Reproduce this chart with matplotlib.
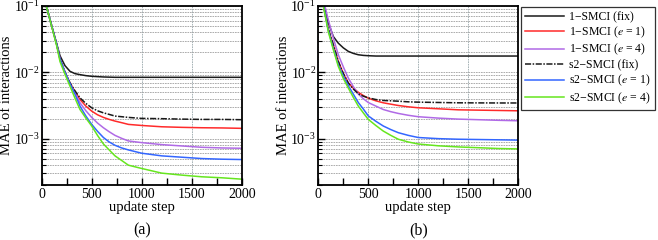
import numpy as np
import matplotlib

matplotlib.use("Agg")
import matplotlib.pyplot as plt
from matplotlib.ticker import MultipleLocator, LogLocator, NullFormatter

plt.rcParams.update(
    {
        "font.family": ["Liberation Serif", "DejaVu Serif"],
        "mathtext.fontset": "stix",
        "font.size": 10,
        "axes.linewidth": 1.3,
    }
)

# ---------- data ----------
# panel (a)
steps_a = [0, 50, 100, 150, 183, 233, 283, 333, 383, 442, 500, 558, 617, 675, 733,
           800, 867, 1000, 1200, 1400, 1600, 1800, 2000]
a_1fix = [0.141, 0.0955, 0.0501, 0.0269, 0.0178, 0.0126, 0.01035, 0.00955, 0.00923, 0.00891,
          0.00871, 0.00861, 0.00851, 0.00846, 0.00841, 0.00841, 0.00841, 0.00841, 0.00841,
          0.00841, 0.00841, 0.00841, 0.00841]
a_1e1 = [0.141, 0.0955, 0.0501, 0.0263, 0.0158, 0.0100, 0.00692, 0.00513, 0.00389, 0.00309,
         0.0026, 0.00229, 0.00209, 0.00195, 0.00184, 0.00174, 0.00164, 0.00158, 0.00151,
         0.00148, 0.00146, 0.00145, 0.00143]
a_1e4 = [0.141, 0.0955, 0.0501, 0.0263, 0.0158, 0.0100, 0.00676, 0.0049, 0.00347, 0.00263,
         0.00209, 0.00172, 0.00146, 0.00127, 0.00112, 0.00101, 0.000923, 0.000871, 0.000813,
         0.000776, 0.000741, 0.000724, 0.000716]
a_sfix = [0.141, 0.0955, 0.0501, 0.0263, 0.0158, 0.0100, 0.00692, 0.00525, 0.00412, 0.00339,
          0.00292, 0.00263, 0.00245, 0.00232, 0.00219, 0.00214, 0.00209, 0.00202, 0.0020,
          0.00197, 0.00195, 0.00195, 0.00193]
a_se1 = [0.141, 0.0955, 0.0501, 0.0263, 0.0158, 0.0100, 0.00676, 0.00468, 0.00309, 0.00219,
         0.00164, 0.00129, 0.00104, 0.000891, 0.000794, 0.000724, 0.000676, 0.000603, 0.00055,
         0.000525, 0.000501, 0.00049, 0.000484]
a_se4 = [0.141, 0.0955, 0.0490, 0.0250, 0.0145, 0.00933, 0.00617, 0.00407, 0.00275, 0.00204,
         0.00155, 0.00112, 0.000832, 0.000676, 0.00055, 0.000468, 0.000398, 0.000355, 0.000302,
         0.000282, 0.000266, 0.000257, 0.000245]

# panel (b)
steps_b = [0, 50, 100, 150, 200, 250, 300, 350, 400, 450, 500, 575, 650, 725, 800, 900,
           1000, 1200, 1400, 1600, 1800, 2000]
b_1fix = [0.158, 0.112, 0.0562, 0.0347, 0.0275, 0.0234, 0.0207, 0.0193, 0.0184, 0.018, 0.0178,
          0.0176, 0.0176, 0.0176, 0.0176, 0.0176, 0.0176, 0.0176, 0.0176, 0.0176, 0.0176, 0.0176]
b_1e1 = [0.158, 0.105, 0.045, 0.026, 0.0146, 0.0096, 0.0069, 0.00575, 0.0050, 0.00447, 0.00407,
         0.00372, 0.00347, 0.00331, 0.00316, 0.00302, 0.00292, 0.00282, 0.00272, 0.00269,
         0.00266, 0.00263]
b_1e4 = [0.17, 0.125, 0.062, 0.033, 0.0184, 0.0121, 0.0082, 0.0061, 0.0047, 0.0040, 0.0035,
         0.0031, 0.00275, 0.00255, 0.0024, 0.00225, 0.00214, 0.00204, 0.00197, 0.00193,
         0.00189, 0.00186]
b_sfix = [0.158, 0.105, 0.045, 0.026, 0.0146, 0.0096, 0.0069, 0.00562, 0.00473, 0.00437, 0.00412,
          0.00389, 0.00376, 0.00372, 0.00367, 0.00359, 0.00355, 0.00351, 0.00347, 0.00346,
          0.00345, 0.00345]
b_se1 = [0.158, 0.105, 0.043, 0.023, 0.013, 0.0088, 0.0063, 0.0047, 0.0035, 0.0028, 0.0022,
         0.00183, 0.00155, 0.00137, 0.00123, 0.00112, 0.00104, 0.0010, 0.00098, 0.00097,
         0.00096, 0.00095]
b_se4 = [0.158, 0.10, 0.041, 0.022, 0.0123, 0.0081, 0.0058, 0.0042, 0.0031, 0.00245, 0.00195,
         0.00158, 0.0013, 0.00112, 0.00098, 0.00089, 0.00083, 0.00078, 0.00075, 0.00073,
         0.00071, 0.0007]

labels = [
    "1\u2212SMCI (fix)",
    "1\u2212SMCI ($e$ = 1)",
    "1\u2212SMCI ($e$ = 4)",
    "s2\u2212SMCI (fix)",
    "s2\u2212SMCI ($e$ = 1)",
    "s2\u2212SMCI ($e$ = 4)",
]

# ---------- style ----------
colors = ["#1a1a1a", "#ff2a2a", "#b06ae6", "#1a1a1a", "#3366ff", "#66e61e"]
styles = ["-", "-", "-", (0, (4, 1, 1, 1)), "-", "-"]

panels = [
    (steps_a, [a_1fix, a_1e1, a_1e4, a_sfix, a_se1, a_se4], "(a)", 41.7),
    (steps_b, [b_1fix, b_1e1, b_1e4, b_sfix, b_se1, b_se4], "(b)", 318.3),
]

fig = plt.figure(figsize=(6.58, 2.40), dpi=100)
W, H = 658, 240

for steps, series, cap, lx in panels:
    ax = fig.add_axes([lx / W, 1 - 185 / H, 200 / W, 179 / H])
    for vals, c, ls, lab in zip(series, colors, styles, labels):
        ax.plot(steps, vals, color=c, linestyle=ls, linewidth=1.1, label=lab)
    ax.set_yscale("log")
    ax.set_ylim(2e-4, 1e-1)
    ax.set_xlim(0, 2000)
    ax.xaxis.set_major_locator(MultipleLocator(500))
    ax.xaxis.set_minor_locator(MultipleLocator(250))
    ax.yaxis.set_major_locator(LogLocator(base=10, numticks=10))
    ax.yaxis.set_minor_locator(LogLocator(base=10, subs=np.arange(2, 10), numticks=10))
    ax.yaxis.set_minor_formatter(NullFormatter())
    ax.tick_params(which="both", direction="in", labelsize=10)
    ax.tick_params(axis="y", pad=1.5)
    ax.tick_params(axis="x", pad=2.5)
    ax.tick_params(which="major", length=5, width=1)
    ax.tick_params(axis="x", which="minor", length=5, width=1)
    ax.tick_params(axis="y", which="minor", length=3, width=0.8)
    ax.grid(True, which="major", axis="x", color="#9aa8ac", linewidth=0.6, linestyle=(0, (2, 1)))
    ax.grid(True, which="both", axis="y", color="#a0a0a0", linewidth=0.6, linestyle=(0, (2, 1)))
    ax.set_axisbelow(True)
    ax.set_xlabel("update step", fontsize=10.5, labelpad=0)
    ax.set_ylabel("MAE of interactions", fontsize=10.5)
    ax.yaxis.set_label_coords(-0.142, 0.5)
    fig.text((lx + 100) / W, 1 - 230 / H, cap, ha="center", va="center", fontsize=11.5)
    if cap == "(a)":
        handles, labs = ax.get_legend_handles_labels()

leg = fig.legend(
    handles,
    labs,
    loc="upper left",
    bbox_to_anchor=(521 / W, 1 - 7 / H),
    borderaxespad=0,
    frameon=True,
    fancybox=False,
    edgecolor="black",
    fontsize=8.5,
    handlelength=3.3,
    handletextpad=0.45,
    labelspacing=0.15,
    borderpad=0.35,
)
leg.get_frame().set_linewidth(0.9)

fig.savefig("out.png", dpi=100)
